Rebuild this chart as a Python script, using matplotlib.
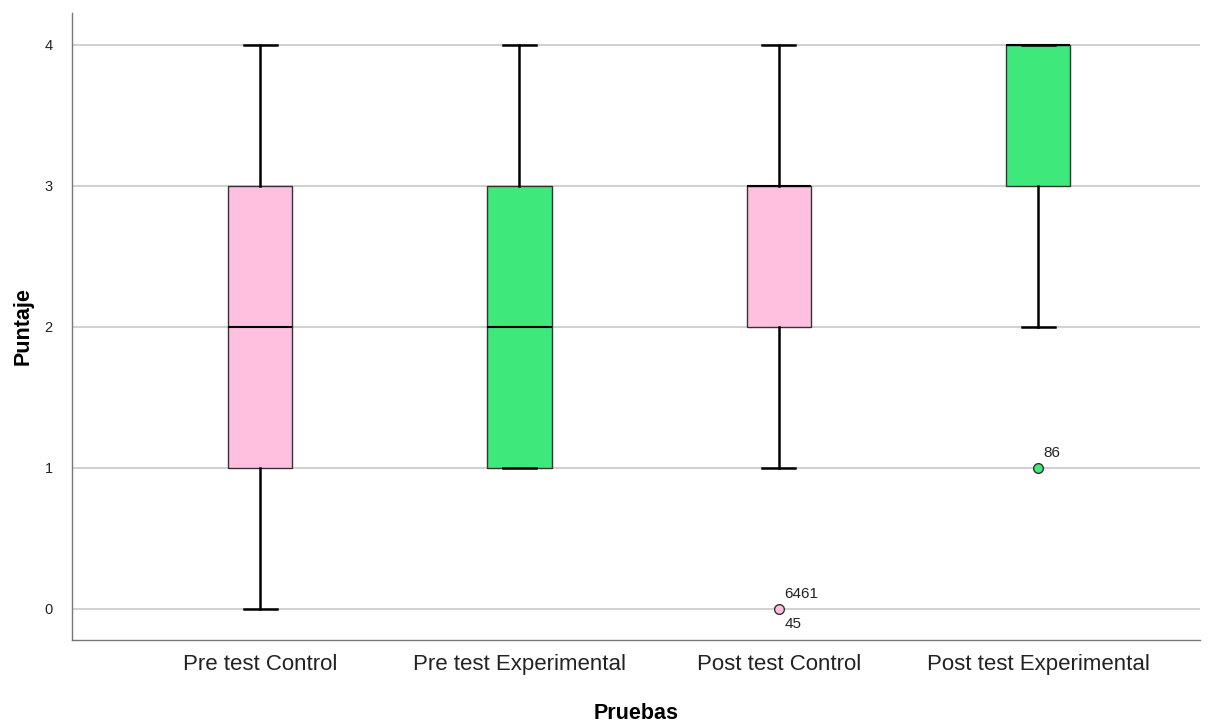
import matplotlib
matplotlib.use("Agg")
matplotlib.rcParams["font.family"] = ["Liberation Sans", "DejaVu Sans"]

import matplotlib.pyplot as plt

# Box statistics
groups = ["Pre test Control", "Pre test Experimental", "Post test Control", "Post test Experimental"]
whislo = [0, 1, 1, 2]
q1 = [1, 1, 2, 3]
med = [2, 2, 3, 4]
q3 = [3, 3, 3, 4]
whishi = [4, 4, 4, 4]
fliers = [[], [], [0], [1]]
flier_labels = [[], [], [("6461", "above"), ("45", "below")], [("86", "above")]]

pink = "#FFC0E0"
green = "#3EE87A"
colors = [pink, green, pink, green]

fig = plt.figure(figsize=(12.16, 7.22), dpi=100)
ax = fig.add_axes([0.0592, 0.1136, 0.928, 0.869])

stats = []
for i, g in enumerate(groups):
    stats.append(dict(label=g, whislo=whislo[i], q1=q1[i], med=med[i],
                      q3=q3[i], whishi=whishi[i], fliers=fliers[i]))

pos = list(range(len(groups)))
bp = ax.bxp(stats, positions=pos, widths=0.247, patch_artist=True,
            showfliers=True, manage_ticks=False,
            boxprops=dict(edgecolor="#333333", linewidth=1.0),
            medianprops=dict(color="black", linewidth=1.5),
            whiskerprops=dict(color="black", linewidth=1.8),
            capprops=dict(color="black", linewidth=1.8),
            capwidths=0.127,
            flierprops=dict(marker="o", markersize=7, markeredgecolor="#333333",
                            markeredgewidth=1.0))
for patch, c in zip(bp["boxes"], colors):
    patch.set_facecolor(c)
for fl, c in zip(bp["fliers"], colors):
    fl.set_markerfacecolor(c)

for i, labs in enumerate(flier_labels):
    for text, where in labs:
        y = fliers[i][0]
        dy = 11 if where == "above" else -11
        ax.annotate(text, (pos[i], y), textcoords="offset points",
                    xytext=(4, dy), ha="left", va="center", fontsize=11,
                    color="#222222")

ax.set_xlim(-0.725, 3.625)
ax.set_ylim(-0.22, 4.227)
ax.set_yticks([0, 1, 2, 3, 4])
ax.set_xticks(pos)
ax.set_xticklabels(groups, fontsize=16, color="#222222")
ax.tick_params(axis="y", labelsize=10.5, length=0, pad=14, colors="#222222")
ax.tick_params(axis="x", length=0, pad=10)
ax.yaxis.grid(True, color="#C8C8C8", linewidth=1.2, zorder=0)
ax.set_axisbelow(True)

for s in ["top", "right"]:
    ax.spines[s].set_visible(False)
for s in ["left", "bottom"]:
    ax.spines[s].set_color("#777777")
    ax.spines[s].set_linewidth(1.0)

ax.set_xlabel("Pruebas", fontsize=15.5, fontweight="bold", labelpad=20)
ax.set_ylabel("Puntaje", fontsize=15.5, fontweight="bold", labelpad=8)

fig.savefig("out.png", dpi=100)
